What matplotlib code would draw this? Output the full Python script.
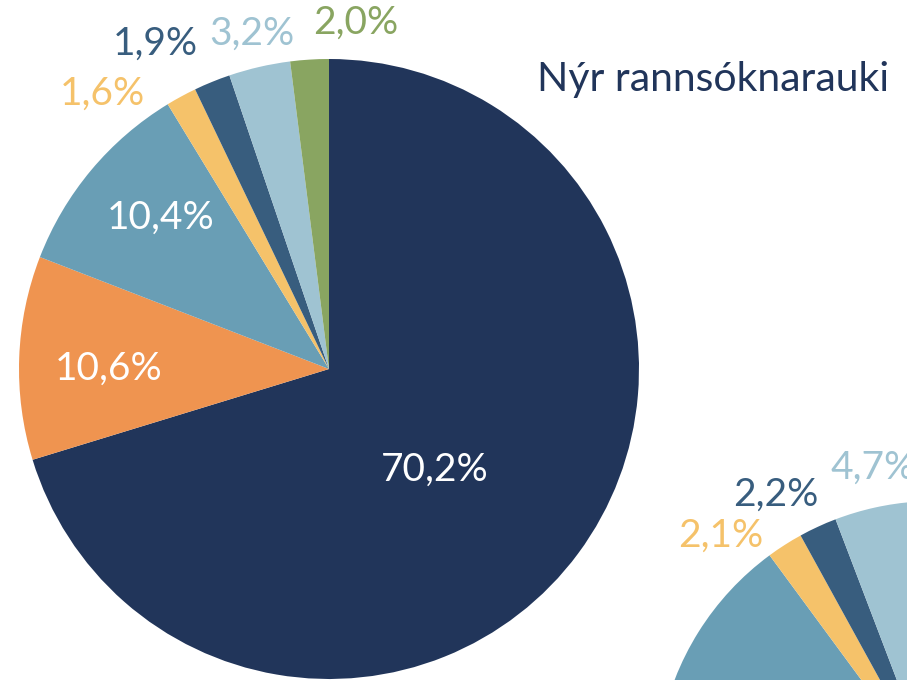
import numpy as np
import matplotlib
matplotlib.use("Agg")
import matplotlib.pyplot as plt

plt.rcParams['font.family'] = ['Lato', 'DejaVu Sans']

# ---- data ----
categories = ["A", "B", "C", "D", "E", "F", "G"]
main_values = [70.2, 10.6, 10.4, 1.6, 1.9, 3.2, 2.0]
main_labels = ["70,2%", "10,6%", "10,4%", "1,6%", "1,9%", "3,2%", "2,0%"]
second_values = [68.4, 9.5, 12.0, 2.1, 2.2, 4.7, 1.1]
second_labels = ["", "", "", "2,1%", "2,2%", "4,7%", ""]
title_text = "Nýr rannsóknarauki"

# ---- style ----
colors = ["#21355A", "#EF9450", "#699EB5", "#F5C26A", "#385D7E", "#9FC3D2", "#89A561"]
main_label_colors = ["white", "white", "white", "#F5C26A", "#385D7E", "#9FC3D2", "#89A561"]
second_label_colors = ["", "", "", "#F5C26A", "#385D7E", "#9FC3D2", ""]
W, H = 907, 680

fig = plt.figure(figsize=(W / 100, H / 100), dpi=100)
ax = fig.add_axes([0, 0, 1, 1])

# layout (pixel units, y measured from bottom)
main_center = (329, H - 369)
main_radius = 310
second_center = (935, H - 780)
second_radius = 279

main_dist = [0.47, 0.71, 0.73, 1.15, 1.19, 1.11, 1.12]
main_shift = [-7, 2, -2, 11, 6, 0, -8]
second_dist = [0, 0, 0, 1.163, 1.17, 1.14, 0]
second_shift = [0, 0, 0, 8.7, 4.4, -1.2, 0]


def draw(values, center, radius, labels, lcolors, dist, shift):
    wedges, _ = ax.pie(values, colors=colors, startangle=90, counterclock=False,
                       center=center, radius=radius,
                       wedgeprops=dict(linewidth=0))
    for w, lab, c, d, s in zip(wedges, labels, lcolors, dist, shift):
        if not lab:
            continue
        mid = np.deg2rad((w.theta1 + w.theta2) / 2 + s)
        x = center[0] + radius * d * np.cos(mid)
        y = center[1] + radius * d * np.sin(mid)
        ax.text(x, y, lab, color=c, fontsize=28, ha="center", va="center")


draw(main_values, main_center, main_radius, main_labels, main_label_colors,
     main_dist, main_shift)
draw(second_values, second_center, second_radius, second_labels,
     second_label_colors, second_dist, second_shift)

ax.text(537, H - 80, title_text, color="#21355A", fontsize=29.5, ha="left", va="center")

ax.set_xlim(0, W)
ax.set_ylim(0, H)
ax.set_aspect("equal")
ax.axis("off")
fig.savefig("out.png", dpi=100)
